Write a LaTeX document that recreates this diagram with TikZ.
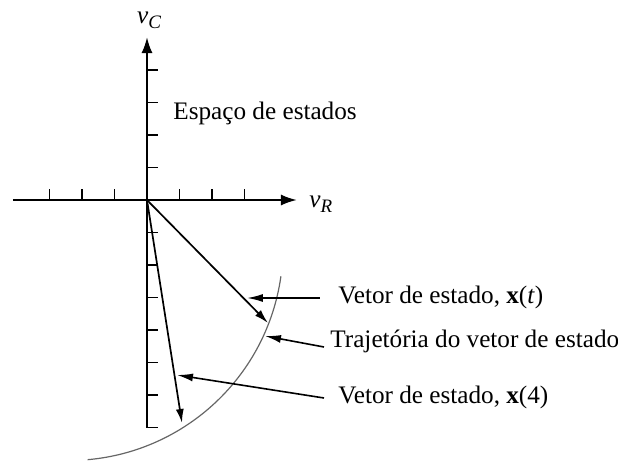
\documentclass[tikz,border=0pt]{standalone}
\usepackage{fontspec}
\setmainfont{Liberation Serif}
\usetikzlibrary{arrows.meta,calc}
\begin{document}
\begin{tikzpicture}[x=0.5pt,y=-0.5pt,
  axis/.style={line width=1.1pt},
  axtip/.style={-{Latex[length=8pt,width=5.5pt]}},
  vec/.style={line width=0.85pt,-{Latex[length=7pt,width=4pt]}},
  lead/.style={line width=0.8pt,-{Latex[length=8pt,width=4pt]}},
  traj/.style={line width=0.6pt,draw=black!60},
  tick/.style={line width=0.9pt},
  lbl/.style={font=\fontsize{12.6}{14}\selectfont,inner sep=0pt,anchor=west}]
\useasboundingbox (0,0) rectangle (618,461);
\coordinate (O) at (147,200);
\coordinate (xl) at (13,200);
\coordinate (xr) at (297,200);
\coordinate (yb) at (147,427.5);
\coordinate (yt) at (147,37);
\draw[axis,axtip] (xl) -- (xr);
\draw[axis,axtip] (yb) -- (yt);
\foreach \k in {-3,-2,-1,1,2,3}
  \draw[tick] ({147+32.5*\k},200) -- ++(0,-11);
\foreach \k in {-4,-3,-2,-1,1,2,3,4,5,6,7}
  \draw[tick] (147,{200+32.5*\k}) -- ++(11,0);
\node[font=\fontsize{12.6}{14}\selectfont\itshape,inner sep=0pt] (vc) at (149,20) {v\raisebox{-0.45ex}{\fontsize{9.5}{10}\selectfont C}};
\node[font=\fontsize{12.6}{14}\selectfont\itshape,inner sep=0pt,anchor=west] (vr) at (309,204) {v\raisebox{-0.45ex}{\fontsize{9.5}{10}\selectfont R}};
\node[lbl] (esp) at (173,113) {Espaço de estados};
% trajectory arc: centre (69,246.5), r=214
\coordinate (C0) at (69,246.5);
\draw[traj] ($(C0)+(8:214)$) arc[start angle=8,end angle=85,radius=214];
\coordinate (xt) at (268,323);
\coordinate (x4) at (182,423);
\draw[vec] (O) -- (xt);
\draw[vec] (O) -- (x4);
\node[lbl] (l1) at (338,297) {Vetor de estado, \textbf{x}(\textit{t})};
\node[lbl] (l2) at (330,341) {Trajetória do vetor de estado};
\node[lbl] (l3) at (338,397) {Vetor de estado, \textbf{x}(4)};
\coordinate (t1) at (247,298);
\coordinate (t2) at (265,336);
\coordinate (t3) at (177,375);
\draw[lead] (320,298) coordinate (s1) -- (t1);
\draw[lead] (324,347) coordinate (s2) -- (t2);
\draw[lead] (324,398) coordinate (s3) -- (t3);
\end{tikzpicture}
\end{document}
